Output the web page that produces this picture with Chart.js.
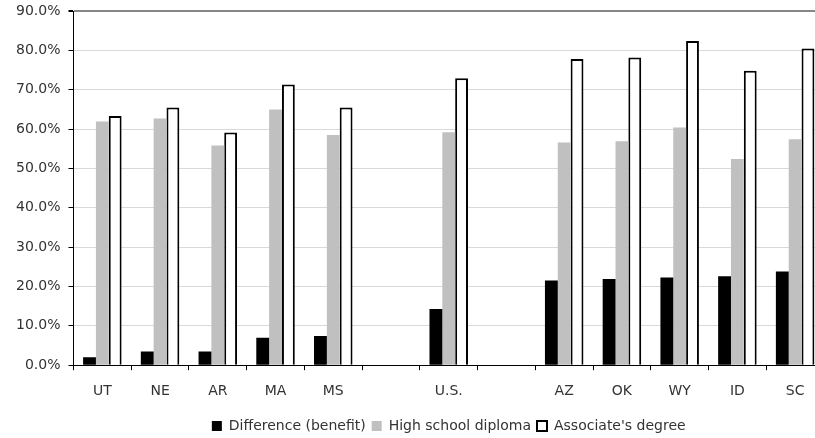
<!DOCTYPE html>
<html>
<head>
<meta charset="utf-8">
<script src="https://cdn.jsdelivr.net/npm/chart.js@4"></script>
<style>
  html, body { margin: 0; padding: 0; background: #fff; overflow: hidden; }
  #wrap { width: 830px; height: 438px; }
</style>
</head>
<body>
<div id="wrap"><canvas id="benefit"></canvas></div>
<script>
// states sorted by benefit, U.S. average set apart by empty slots
var states = ['UT', 'NE', 'AR', 'MA', 'MS', '', 'U.S.', '', 'AZ', 'OK', 'WY', 'ID', 'SC'];
var difference = [2.0, 3.5, 3.5, 7.0, 7.4, null, 14.3, null, 21.5, 21.9, 22.3, 22.6, 23.8];
var highSchool = [61.9, 62.7, 55.8, 65.0, 58.5, null, 59.2, null, 56.6, 56.9, 60.4, 52.4, 57.4];
var associate = [63.3, 65.5, 59.1, 71.3, 65.5, null, 72.9, null, 77.8, 78.2, 82.4, 74.8, 80.5];
var yTicks = [0, 10, 20, 30, 40, 50, 60, 70, 80, 90];

var fontFam = "'DejaVu Sans', sans-serif";
var textCol = '#333';

var ctx = document.getElementById('benefit').getContext('2d');
var chart = new Chart(ctx, {
  type: 'bar',
  data: {
    labels: states,
    datasets: [{
        label: 'Difference (benefit)',
        data: difference,
        backgroundColor: '#000000',
        borderWidth: 0
      },
      {
        label: 'High school diploma',
        data: highSchool,
        backgroundColor: '#c0c0c0',
        borderWidth: 0
      },
      {
        label: "Associate's degree",
        data: associate,
        backgroundColor: '#ffffff',
        borderColor: '#000000',
        borderWidth: 2
      }
    ]
  },
  options: {
    responsive: true,
    maintainAspectRatio: false,
    animation: false,
    layout: {
      padding: { left: 8, right: 6, top: 11, bottom: -5 }
    },
    datasets: {
      bar: { categoryPercentage: 0.667, barPercentage: 1.0 }
    },
    plugins: {
      tooltip: { enabled: false },
      legend: {
        position: 'bottom',
        fullSize: false,
        labels: {
          color: textCol,
          font: { family: fontFam, size: 14 },
          boxWidth: 10,
          boxHeight: 10,
          padding: 6
        }
      }
    },
    scales: {
      x: {
        border: { color: '#000', width: 1 },
        grid: {
          drawOnChartArea: false,
          tickColor: '#000',
          tickLength: 5,
          offset: true
        },
        ticks: {
          color: textCol,
          font: { family: fontFam, size: 14 },
          padding: 13,
          maxRotation: 0,
          autoSkip: false
        }
      },
      y: {
        min: 0,
        max: 90,
        afterBuildTicks: function(axis) {
          axis.ticks = yTicks.map(function(v) { return { value: v }; });
        },
        // top label may overhang; the layout padding handles it
        afterFit: function(axis) {
          axis.paddingTop = 0;
        },
        border: { color: '#000', width: 1 },
        grid: {
          color: function(c) {
            return c.tick && c.tick.value === 90 ? '#868686' : '#d9d9d9';
          },
          lineWidth: function(c) {
            return c.tick && c.tick.value === 90 ? 2 : 1;
          },
          tickColor: '#000',
          tickLength: 5
        },
        ticks: {
          color: textCol,
          font: { family: fontFam, size: 14 },
          padding: 8,
          callback: function(v) { return v.toFixed(1) + '%'; }
        }
      }
    }
  }
});
</script>
</body>
</html>
